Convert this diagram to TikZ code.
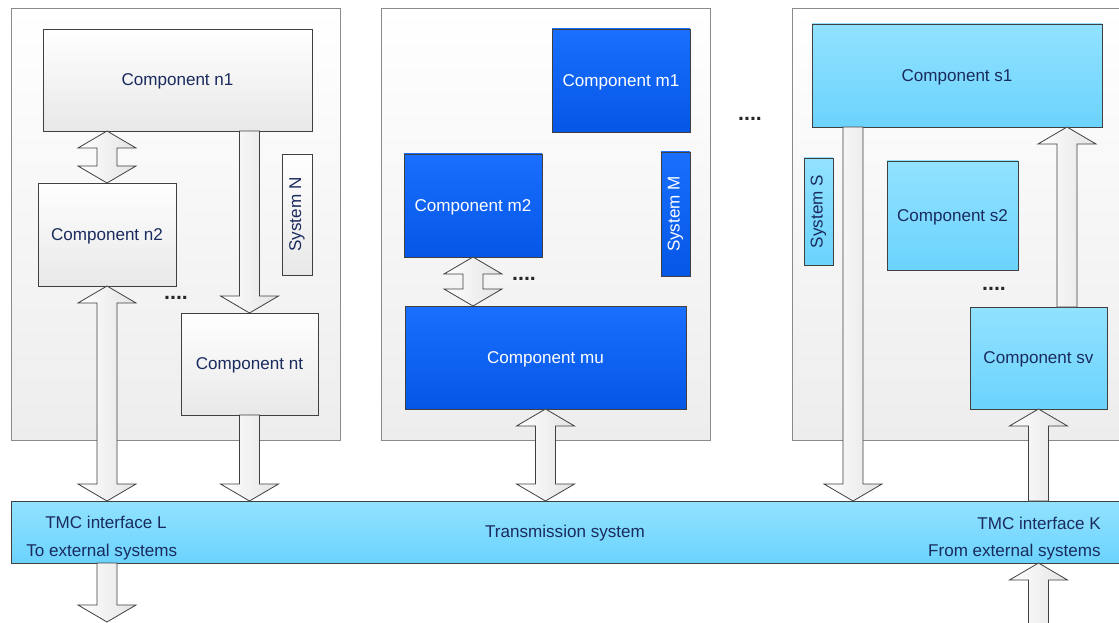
\documentclass[tikz,border=0pt]{standalone}
\usepackage{fontspec}
\setmainfont{Liberation Sans}
\usetikzlibrary{calc,shadows}
\definecolor{navy}{HTML}{1A2B5E}
\definecolor{panelbot}{HTML}{EDEDED}
\definecolor{graybot}{HTML}{E8E8E8}
\definecolor{bluetop}{HTML}{1A6FFF}
\definecolor{bluebot}{HTML}{0456E6}
\definecolor{cyantop}{HTML}{92E2FF}
\definecolor{cyanbot}{HTML}{6BD3FD}
\definecolor{edge}{HTML}{404040}
\definecolor{paneledge}{HTML}{8A8A8A}
\newcommand{\txtfont}{\fontsize{12.8}{15}\selectfont}
% block arrows: shaft half width 7.5pt, head half width 21.75pt, head length 12.75pt
\newcommand{\dblarr}[2]{\path[blockarrow] let \p1=(#1), \p2=(#2) in
  (\x1,\y1) -- ({\x1+21.75pt},{\y1-12.75pt}) -- ({\x1+7.5pt},{\y1-12.75pt})
  -- ({\x1+7.5pt},{\y2+12.75pt}) -- ({\x1+21.75pt},{\y2+12.75pt}) -- (\x1,\y2)
  -- ({\x1-21.75pt},{\y2+12.75pt}) -- ({\x1-7.5pt},{\y2+12.75pt})
  -- ({\x1-7.5pt},{\y1-12.75pt}) -- ({\x1-21.75pt},{\y1-12.75pt}) -- cycle;}
\newcommand{\darr}[2]{\path[blockarrow] let \p1=(#1), \p2=(#2) in
  ({\x1-7.5pt},\y1) -- ({\x1+7.5pt},\y1) -- ({\x1+7.5pt},{\y2+12.75pt})
  -- ({\x1+21.75pt},{\y2+12.75pt}) -- (\x1,\y2) -- ({\x1-21.75pt},{\y2+12.75pt})
  -- ({\x1-7.5pt},{\y2+12.75pt}) -- cycle;}
\newcommand{\uarr}[2]{\path[blockarrow] let \p1=(#1), \p2=(#2) in
  ({\x1-7.5pt},\y1) -- ({\x1+7.5pt},\y1) -- ({\x1+7.5pt},{\y2-12.75pt})
  -- ({\x1+21.75pt},{\y2-12.75pt}) -- (\x1,\y2) -- ({\x1-21.75pt},{\y2-12.75pt})
  -- ({\x1-7.5pt},{\y2-12.75pt}) -- cycle;}
\begin{document}
\begin{tikzpicture}[x=0.75pt,y=-0.75pt,
  base/.style={inner sep=0pt, outer sep=0pt, anchor=north west, font=\txtfont, text depth=0pt},
  panel/.style={base, draw=paneledge, line width=0.6pt, top color=white, bottom color=panelbot,
     drop shadow={shadow xshift=0.8pt, shadow yshift=-0.8pt, opacity=0.15, fill=black!50}},
  graybox/.style={base, draw=edge, line width=0.6pt, top color=white, bottom color=graybot, text=navy,
     drop shadow={shadow xshift=1pt, shadow yshift=-1pt, opacity=0.2, fill=black!50}},
  bluebox/.style={base, draw=edge, line width=0.6pt, top color=bluetop, bottom color=bluebot, text=white,
     drop shadow={shadow xshift=1pt, shadow yshift=-1pt, opacity=0.2, fill=black!50}},
  cyanbox/.style={base, draw=edge, line width=0.6pt, top color=cyantop, bottom color=cyanbot, text=navy,
     drop shadow={shadow xshift=1pt, shadow yshift=-1pt, opacity=0.2, fill=black!50}},
  blockarrow/.style={draw=edge, line width=0.6pt, left color=white, right color=black!11, line join=miter},
  label/.style={inner sep=0pt, font=\txtfont, text=navy},
  dotstext/.style={inner sep=0pt, font=\fontsize{16}{16}\selectfont\bfseries, text=black!85},
]
\useasboundingbox (0,0) rectangle (1119,623);
\clip (0,0) rectangle (1119,623);
\fill[white] (0,0) rectangle (1119,623);

% panels
\node[panel, minimum width=329*0.75pt, minimum height=432*0.75pt] (panN) at (11,8) {};
\node[panel, minimum width=329*0.75pt, minimum height=432*0.75pt] (panM) at (381,8) {};
\node[panel, minimum width=345*0.75pt, minimum height=432*0.75pt] (panS) at (792,8) {};

% system N
\node[graybox, minimum width=269*0.75pt, minimum height=102*0.75pt] (n1) at (43,29) {Component n1};
\node[graybox, minimum width=138*0.75pt, minimum height=103*0.75pt] (n2) at (38,183) {Component n2};
\node[graybox, minimum width=30*0.75pt, minimum height=121*0.75pt] (sysN) at (282,154) {};
\node[label, rotate=90] (sysNt) at (sysN.center) {System N};
\node[graybox, minimum width=137*0.75pt, minimum height=102*0.75pt] (nt) at (181,313) {Component nt};
\node[dotstext] (dotsN) at (176,298) {....};

% system M
\node[bluebox, minimum width=138*0.75pt, minimum height=103*0.75pt] (m1) at (552,29) {Component m1};
\node[bluebox, minimum width=138*0.75pt, minimum height=103*0.75pt] (m2) at (404,154) {Component m2};
\node[bluebox, minimum width=29*0.75pt, minimum height=124*0.75pt] (sysM) at (661,152) {};
\node[label, text=white, rotate=90] (sysMt) at (sysM.center) {System M};
\node[bluebox, minimum width=281*0.75pt, minimum height=103*0.75pt] (mu) at (405,306) {Component mu};
\node[dotstext] (dotsM) at (524,279) {....};

\node[dotstext] (dotsP) at (750,119) {....};

% system S
\node[cyanbox, minimum width=290*0.75pt, minimum height=103*0.75pt] (s1) at (812,24) {Component s1};
\node[cyanbox, minimum width=29*0.75pt, minimum height=107*0.75pt] (sysS) at (804,158) {};
\node[label, rotate=90] (sysSt) at (sysS.center) {System S};
\node[cyanbox, minimum width=131*0.75pt, minimum height=109*0.75pt] (s2) at (887,161) {Component s2};
\node[cyanbox, minimum width=137*0.75pt, minimum height=102*0.75pt] (sv) at (970,307) {Component sv};
\node[dotstext] (dotsS) at (994,289) {....};

% transmission bar
\node[base, draw=edge, line width=0.6pt, top color=cyantop, bottom color=cyanbot,
      minimum width=1120*0.75pt, minimum height=62*0.75pt] (bar) at (11,501) {};
\node[label] (trans) at (565,533) {Transmission system};
\node[label, anchor=west] (tmcL) at (45,522) {TMC interface L};
\node[label, anchor=west] (extL) at (26,552) {To external systems};
\node[label, anchor=east] (tmcK) at (1101,523) {TMC interface K};
\node[label, anchor=east] (extK) at (1101,552) {From external systems};

% helper coordinates
\coordinate (sdown) at ($(s1.south west)+(41,0)$);
\coordinate (sup) at ($(sv.north east)+(-40,0)$);
\coordinate (outL) at (107,622);
\coordinate (inK) at ($(sv.south)+(0,260)$);

% arrows
\dblarr{n2.north |- n1.south}{n2.north}
\darr{nt.north |- n1.south}{nt.north}
\dblarr{n2.south}{n2.south |- bar.north}
\darr{nt.south}{nt.south |- bar.north}
\darr{bar.south -| n2.south}{outL}
\dblarr{m2.south}{m2.south |- mu.north}
\dblarr{mu.south}{mu.south |- bar.north}
\darr{sdown}{sdown |- bar.north}
\uarr{sup}{sup |- s1.south}
\uarr{sv.south |- bar.north}{sv.south}
\uarr{inK}{sv.south |- bar.south}
\end{tikzpicture}
\end{document}
